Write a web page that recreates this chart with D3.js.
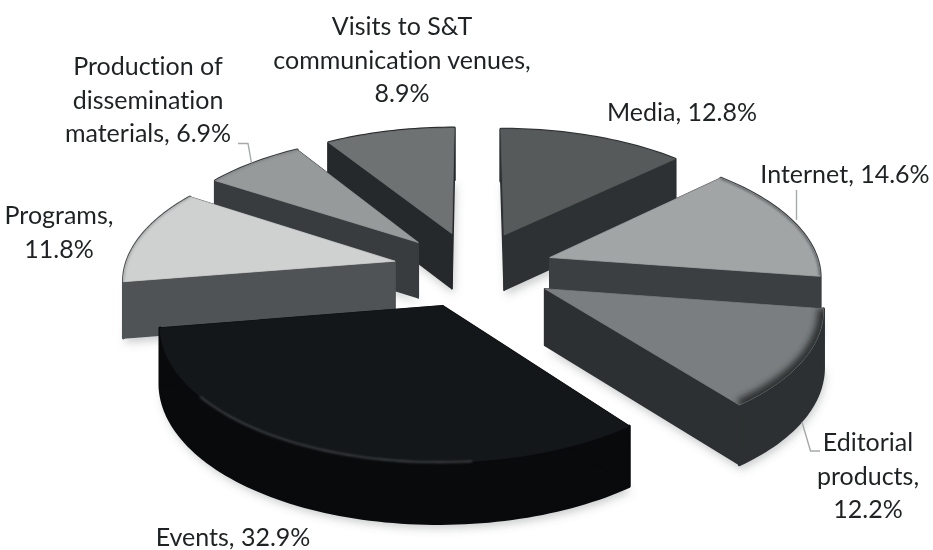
<!DOCTYPE html>
<html>
<head>
<meta charset="utf-8">
<script src="https://cdn.jsdelivr.net/npm/d3@7"></script>
<style>
  html, body { margin: 0; padding: 0; background: #fff; }
  svg { display: block; }
  text { font-family: Lato, "Open Sans", sans-serif; font-size: 25px; fill: #1f2224; font-variant-ligatures: none; }
</style>
</head>
<body>
<svg id="chart" width="933" height="550"></svg>
<script>
// Shares of science popularisation activity, clockwise from twelve o'clock.
const categories = ["Media", "Internet", "Editorial products", "Events", "Programs", "Production of dissemination materials", "Visits to S&T communication venues"];
const shares = [12.8, 14.6, 12.2, 32.9, 11.8, 6.9, 8.9];
const labelLines = [
  ["Media, 12.8%"],
  ["Internet, 14.6%"],
  ["Editorial", "products,", "12.2%"],
  ["Events, 32.9%"],
  ["Programs,", "11.8%"],
  ["Production of", "dissemination", "materials, 6.9%"],
  ["Visits to S&T", "communication venues,", "8.9%"]
];
const topColors = ["#565a5a", "#a2a5a6", "#7a7e80", "#14171a", "#cfd1d1", "#969a9b", "#6e7272"];
const sideColors = ["#2d3133", "#3b3f42", "#2d3033", "#090a0c", "#4f5355", "#383c3f", "#26292b"];

// Slices are painted back to front so nearer ones cover the walls behind them.
const paintOrder = ["Visits to S&T communication venues", "Media", "Production of dissemination materials", "Programs", "Internet", "Editorial products", "Events"];

// Rim shading strength for each category, and its blur width.
const rimOpacity = [0, 0.75, 1, 0, 0.3, 0.25, 0];
const rimWidth = [2, 2.4, 12, 2, 2, 2, 2];

// Label placement: centre x and first baseline y for each category.
const labelX = [682, 845, 868, 233, 59, 148, 402];
const labelY = [121, 183, 451, 546, 224, 75, 35];
const lineStep = 33.5;
const leaders = [
  [[238, 143.5], [248, 143.5], [251.5, 163]],
  [[796.5, 190], [796.5, 220]],
  [[802, 422], [810.5, 451], [820, 451]]
];

// Perspective projection of the pie's ground plane onto the page.
const view = { cx: 473.5, cy: 269, ax: 270, ay: 127, persp: 0.125, wall: 56, pull: 0.3 };
const project = (u, v, lift = 0) => {
  const w = 1 - view.persp * v;
  return [view.cx + view.ax * u / w, view.cy + view.ay * v / w + lift / Math.sqrt(w)];
};

const svg = d3.select("#chart");
const topColor = d3.scaleOrdinal(categories, topColors);
const sideColor = d3.scaleOrdinal(categories, sideColors);
const rimAlpha = d3.scaleOrdinal(categories, rimOpacity);
const rimStroke = d3.scaleOrdinal(categories, rimWidth);
const line = d3.line();
const closed = pts => line(pts) + "Z";

const slices = d3.pie().sort(null).value(d => d.share)(categories.map((name, i) => ({ name, share: shares[i], lines: labelLines[i], x: labelX[i], y: labelY[i] })));

// Plane position of the rim at angle a, with the slice pulled out along its bisector.
function planePoint(s, a, r = 1) {
  const mid = (s.startAngle + s.endAngle) / 2;
  return [view.pull * Math.sin(mid) + r * Math.sin(a), -view.pull * Math.cos(mid) - r * Math.cos(a)];
}
function rim(s, lift = 0, from = s.startAngle, to = s.endAngle, r = 1) {
  const n = Math.max(8, Math.ceil((to - from) * 40));
  return d3.range(n + 1).map(i => {
    const p = planePoint(s, from + (to - from) * i / n, r);
    return project(p[0], p[1], lift);
  });
}
const apex = (s, lift = 0) => {
  const p = planePoint(s, 0, 0);
  return project(p[0], p[1], lift);
};

const defs = svg.append("defs");
[["soft", 4.5], ["bevel", 3.4], ["edge", 0.8], ["glint", 1.1]].forEach(([id, dev]) => {
  defs.append("filter").attr("id", id)
    .attr("x", "-20%").attr("y", "-20%").attr("width", "140%").attr("height", "140%")
    .append("feGaussianBlur").attr("stdDeviation", dev);
});

const ordered = paintOrder.map(name => slices.find(s => s.data.name === name));

// Soft ground shadow under every slice.
svg.append("g").attr("filter", "url(#soft)").attr("fill", "#5d6262").attr("fill-opacity", 0.32)
  .selectAll("path").data(ordered).join("path")
  .attr("transform", "translate(2,5)")
  .attr("d", s => closed([apex(s, view.wall), ...rim(s, view.wall)]));

const groups = svg.append("g").selectAll("g").data(ordered).join("g");

// Outer wall and the two radial faces.
groups.append("path")
  .attr("d", s => closed([...rim(s, 0), ...rim(s, view.wall).reverse()]))
  .attr("fill", s => sideColor(s.data.name)).attr("stroke", s => sideColor(s.data.name))
  .attr("stroke-width", 3).attr("stroke-linejoin", "round");
[s => s.startAngle, s => s.endAngle].forEach(edge => {
  groups.append("path")
    .attr("d", s => {
      const a = rim(s, 0, edge(s), edge(s))[0];
      const b = rim(s, view.wall, edge(s), edge(s))[0];
      return closed([apex(s), a, b, apex(s, view.wall)]);
    })
    .attr("fill", s => sideColor(s.data.name)).attr("stroke", s => sideColor(s.data.name))
    .attr("stroke-width", 1.5).attr("stroke-linejoin", "round");
});

// Top surface, clipped so the bevel shading stays inside it.
groups.append("clipPath").attr("id", (s, i) => `top-${i}`)
  .append("path").attr("d", s => closed([apex(s), ...rim(s)]));
groups.append("path")
  .attr("d", s => closed([apex(s), ...rim(s)]))
  .attr("fill", s => topColor(s.data.name))
  .attr("stroke", s => topColor(s.data.name)).attr("stroke-width", 0.8).attr("stroke-linejoin", "round");

groups.append("g").attr("clip-path", (s, i) => `url(#top-${i})`)
  .append("path")
  .attr("d", s => line(rim(s)))
  .attr("fill", "none")
  .attr("stroke", s => s.data.name === "Editorial products" ? sideColor(s.data.name) : "#4a4e50")
  .attr("stroke-width", s => rimStroke(s.data.name))
  .attr("stroke-opacity", s => rimAlpha(s.data.name))
  .attr("filter", s => s.data.name === "Editorial products" ? "url(#bevel)" : "url(#edge)");

// Faint glint along the front bevel of the largest slice.
const eventsSlice = slices.find(s => s.data.name === "Events");
svg.append("path")
  .attr("d", line(rim(eventsSlice, 0, eventsSlice.startAngle + 0.55, eventsSlice.endAngle - 0.5)))
  .attr("fill", "none").attr("stroke", "#55595b").attr("stroke-width", 1.6).attr("stroke-opacity", 0.75)
  .attr("filter", "url(#glint)");

// Leader lines.
svg.append("g").selectAll("path").data(leaders).join("path")
  .attr("d", line).attr("fill", "none").attr("stroke", "#a6a9a9").attr("stroke-width", 1.4);

// Category labels.
svg.append("g").selectAll("text").data(slices).join("text")
  .attr("text-anchor", "middle")
  .each(function (s) {
    d3.select(this).selectAll("tspan").data(s.data.lines).join("tspan")
      .attr("x", s.data.x)
      .attr("y", (t, i) => s.data.y + i * lineStep)
      .text(t => t);
  });
</script>
</body>
</html>
